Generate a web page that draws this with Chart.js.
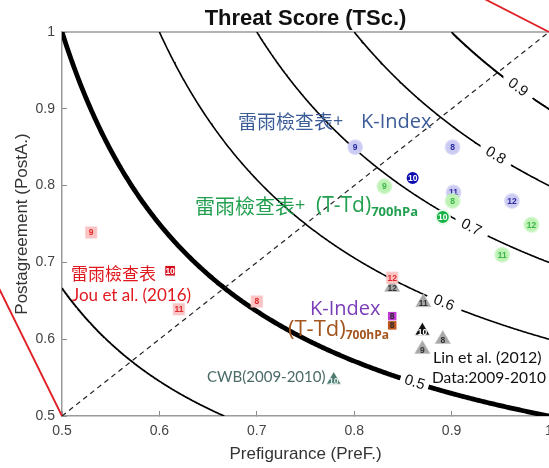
<!DOCTYPE html>
<html>
<head>
<meta charset="utf-8">
<script src="https://cdn.jsdelivr.net/npm/chart.js@4/dist/chart.umd.min.js"></script>
<style>
  html, body { margin: 0; padding: 0; background: #fff; }
  canvas { display: block; }
</style>
</head>
<body>
<canvas id="c" width="549" height="468"></canvas>
<script>
// ---- data ---------------------------------------------------------------
// Threat-score iso-lines drawn over the PreF / PostA plane
const tsLevels = [0.4, 0.5, 0.6, 0.7, 0.8, 0.9];
const axisTicks = [0.5, 0.6, 0.7, 0.8, 0.9, 1];

// 雷雨檢查表 (Jou et al. 2016), by month
const jouMonth = [9, 10, 11, 8, 12];
const jouPreF  = [0.530, 0.611, 0.620, 0.700, 0.839];
const jouPostA = [0.739, 0.689, 0.639, 0.649, 0.680];

// 雷雨檢查表 + K-Index
const kiMonth = [9, 8, 10, 11, 12];
const kiPreF  = [0.801, 0.901, 0.860, 0.902, 0.962];
const kiPostA = [0.850, 0.850, 0.810, 0.791, 0.780];

// 雷雨檢查表 + (T-Td)700hPa
const tdMonth = [9, 8, 10, 12, 11];
const tdPreF  = [0.831, 0.901, 0.891, 0.982, 0.952];
const tdPostA = [0.799, 0.780, 0.759, 0.749, 0.710];

// Lin et al. (2012), data 2009-2010
const linMonth = [12, 11, 10, 8, 9];
const linPreF  = [0.839, 0.871, 0.870, 0.891, 0.870];
const linPostA = [0.668, 0.648, 0.611, 0.600, 0.587];

// K-Index alone and (T-Td)700hPa alone
const kOnlyMonth = [8], kOnlyPreF = [0.839], kOnlyPostA = [0.630];
const tOnlyMonth = [8], tOnlyPreF = [0.839], tOnlyPostA = [0.618];

// CWB (2009-2010)
const cwbMonth = [10], cwbPreF = [0.779], cwbPostA = [0.547];

// ---- helpers ------------------------------------------------------------
const tsPostA = (ts, pref) => 1 / (1 / ts + 1 - 1 / pref);
const toPts = (xs, ys) => xs.map((x, i) => ({ x, y: ys[i] }));
const fmtTick = v => String(Math.round(v * 10) / 10);

// pixels per unit of the plot area (487 x 384 px for a 0.5 x 0.5 range)
const PX_PER_X = 974, PX_PER_Y = 768;
// where each iso-line carries its value label, and the half length of the line break
const contourLabelAt = { 0.5: 0.862, 0.6: 0.892, 0.7: 0.920, 0.8: 0.945, 0.9: 0.968 };
const contourBreak = { 0.5: 14, 0.6: 18, 0.7: 18, 0.8: 18, 0.9: 18 };

function contourPoints(ts) {
  const x0 = Math.max(0.5, ts);
  const x1 = ts < 0.5 ? 1 / (1 / ts - 1) : 1;
  const lx = contourLabelAt[ts];
  const ly = lx ? tsPostA(ts, lx) : null;
  const half = contourBreak[ts] || 0;
  const n = 400, pts = [];
  let inGap = false;
  for (let i = 0; i <= n; i++) {
    const x = x0 + (x1 - x0) * i / n;
    const y = tsPostA(ts, x);
    if (lx && Math.hypot((x - lx) * PX_PER_X, (y - ly) * PX_PER_Y) < half) {
      if (!inGap) { pts.push({ x, y: null }); inGap = true; }
      continue;
    }
    inGap = false;
    pts.push({ x, y });
  }
  return pts;
}

// marker look per series: light style for most months, strong style for October
function markerSet(label, months, xs, ys, shape, radius, look) {
  const isHi = m => m === 10;
  return {
    label,
    data: toPts(xs, ys),
    months,
    pointStyle: shape,
    pointRadius: radius,
    pointBackgroundColor: months.map(m => isHi(m) ? look.hiFill : look.fill),
    pointBorderColor: months.map(m => isHi(m) ? look.hiBorder : look.border),
    pointBorderWidth: look.borderWidth,
    textColors: months.map(m => isHi(m) ? look.hiText : look.text),
    textDy: shape === 'triangle' ? 1.5 : 0.5,
    showLine: false
  };
}

const datasets = [
  markerSet('雷雨檢查表', jouMonth, jouPreF, jouPostA, 'rect', 7.8,
    { fill: '#fbc3c3', border: 'rgba(251,195,195,0.6)', text: '#e02a2a',
      hiFill: '#d20a18', hiBorder: 'rgba(255,255,255,0.9)', hiText: '#ffffff', borderWidth: 1.5 }),
  markerSet('雷雨檢查表+(T-Td)700hPa', tdMonth, tdPreF, tdPostA, 'circle', 7,
    { fill: '#bdf2b4', border: 'rgba(200,245,192,0.7)', text: '#3cb54a',
      hiFill: '#17b346', hiBorder: '#e8fbe8', hiText: '#ffffff', borderWidth: 2 }),
  markerSet('雷雨檢查表+K-Index', kiMonth, kiPreF, kiPostA, 'circle', 7,
    { fill: '#cacaf2', border: 'rgba(210,210,245,0.7)', text: '#2c2ca2',
      hiFill: '#0b0bae', hiBorder: '#ffffff', hiText: '#ffffff', borderWidth: 2 }),
  markerSet('Lin et al. (2012)', linMonth, linPreF, linPostA, 'triangle', 8.8,
    { fill: '#a8a8a8', border: 'rgba(190,190,190,0.6)', text: '#333333',
      hiFill: '#111111', hiBorder: 'rgba(255,255,255,0.8)', hiText: '#ffffff', borderWidth: 1 }),
  markerSet('K-Index', kOnlyMonth, kOnlyPreF, kOnlyPostA, 'rect', 6,
    { fill: '#c23ad6', border: '#c23ad6', text: '#2a2a2a',
      hiFill: '#c23ad6', hiBorder: '#c23ad6', hiText: '#2a2a2a', borderWidth: 0 }),
  markerSet('(T-Td)700hPa', tOnlyMonth, tOnlyPreF, tOnlyPostA, 'rect', 6,
    { fill: '#c0561c', border: '#c0561c', text: '#2a2a2a',
      hiFill: '#c0561c', hiBorder: '#c0561c', hiText: '#2a2a2a', borderWidth: 0 }),
  markerSet('CWB(2009-2010)', cwbMonth, cwbPreF, cwbPostA, 'triangle', 8.5,
    { fill: '#4f7a72', border: '#4f7a72', text: '#e0f0ea',
      hiFill: '#4f7a72', hiBorder: 'rgba(255,255,255,0.7)', hiText: '#e0f0ea', borderWidth: 1 }),
  {
    label: 'bias = 1',
    data: [{ x: 0.5, y: 0.5 }, { x: 1, y: 1 }],
    showLine: true, pointRadius: 0, borderColor: '#222', borderWidth: 1.2,
    borderDash: [5, 4]
  },
  ...tsLevels.map(ts => ({
    label: 'TS ' + ts,
    data: contourPoints(ts),
    showLine: true, pointRadius: 0, spanGaps: false,
    borderColor: '#000', borderWidth: ts === 0.5 ? 4.8 : 1.6,
    borderCapStyle: 'butt'
  })),
  {
    label: 'frame left',
    data: [{ x: 0.5, y: 0.5 }, { x: 0.40, y: 0.757 }],
    showLine: true, pointRadius: 0, borderColor: '#e01e24', borderWidth: 1.8, clip: false
  },
  {
    label: 'frame right',
    data: [{ x: 1, y: 1 }, { x: 0.90, y: 1.065 }],
    showLine: true, pointRadius: 0, borderColor: '#e01e24', borderWidth: 1.8, clip: false
  }
];

// ---- text placed on the plot (anchor = left edge / vertical middle, data units) ----
const CJK = "'Noto Sans CJK TC', 'Noto Sans CJK SC', sans-serif";
const notes = [
  { at: [0.6807, 0.8828], color: '#3b5c98', runs: [
      { t: '雷雨檢查表', f: '19px ' + CJK },
      { t: '+ ', f: "18px 'Open Sans', sans-serif", pad: 13 },
      { t: 'K-Index', f: "20px 'Open Sans', sans-serif" } ] },
  { at: [0.6366, 0.7734], color: '#22a050', runs: [
      { t: '雷雨檢查表', f: '20px ' + CJK },
      { t: '+ ', f: "18px 'Open Sans', sans-serif", pad: 6 },
      { t: '(T-Td)', f: "21px 'Open Sans', sans-serif" },
      { t: '700hPa', f: "bold 13px 'Open Sans', sans-serif", dy: 6 } ] },
  { at: [0.5092, 0.6849], color: '#e0191f', runs: [
      { t: '雷雨檢查表', f: '17px ' + CJK } ] },
  { at: [0.5103, 0.6563], color: '#e0191f', runs: [
      { t: 'Jou et al. (2016)', f: "17px Lato, sans-serif" } ] },
  { at: [0.7546, 0.6393], color: '#7a3db8', runs: [
      { t: 'K-Index', f: "20px 'Open Sans', sans-serif" } ] },
  { at: [0.7320, 0.6120], color: '#a3551f', runs: [
      { t: '(T-Td)', f: "22px 'Open Sans', sans-serif" },
      { t: '700hPa', f: "bold 12px 'Open Sans', sans-serif", dy: 6 } ] },
  { at: [0.6489, 0.5508], color: '#4b6b68', runs: [
      { t: 'CWB(2009-2010)', f: "15px Lato, sans-serif" } ] },
  { at: [0.8809, 0.5755], color: '#111', runs: [
      { t: 'Lin et al. (2012)', f: "16px Lato, sans-serif" } ] },
  { at: [0.8799, 0.5495], color: '#111', runs: [
      { t: 'Data:2009-2010', f: "15.5px Lato, sans-serif" } ] }
];

// ---- plugins ------------------------------------------------------------
const decor = {
  id: 'decor',
  beforeDatasetsDraw(chart) {
    const { ctx, chartArea: a } = chart;
    ctx.save();
    ctx.strokeStyle = '#9a9a9a';
    ctx.lineWidth = 1.5;
    ctx.beginPath();
    ctx.moveTo(a.left, a.top);
    ctx.lineTo(a.right, a.top);
    ctx.stroke();
    ctx.restore();
  },
  afterDatasetDraw(chart, args) {
    const ds = chart.data.datasets[args.index];
    if (!ds.months) return;
    const ctx = chart.ctx;
    ctx.save();
    ctx.font = "bold 8.5px 'Liberation Sans', Arial, sans-serif";
    ctx.textAlign = 'center';
    ctx.textBaseline = 'middle';
    args.meta.data.forEach((el, i) => {
      ctx.fillStyle = ds.textColors[i];
      ctx.fillText(String(ds.months[i]), el.x, el.y + ds.textDy);
    });
    ctx.restore();
  },
  afterDatasetsDraw(chart) {
    const { ctx, scales: { x: xs, y: ys } } = chart;
    // iso-line values
    ctx.save();
    ctx.font = "15px 'Liberation Sans', Arial, sans-serif";
    ctx.fillStyle = '#111';
    ctx.textAlign = 'center';
    ctx.textBaseline = 'middle';
    tsLevels.forEach(ts => {
      const lx = contourLabelAt[ts];
      if (!lx) return;
      const px = xs.getPixelForValue(lx), py = ys.getPixelForValue(tsPostA(ts, lx));
      const px2 = xs.getPixelForValue(lx + 0.002), py2 = ys.getPixelForValue(tsPostA(ts, lx + 0.002));
      ctx.save();
      ctx.translate(px, py);
      ctx.rotate(Math.atan2(py2 - py, px2 - px));
      ctx.fillText(fmtTick(ts), 0, 0);
      ctx.restore();
    });
    ctx.restore();

    // series captions
    notes.forEach(n => {
      let x = xs.getPixelForValue(n.at[0]);
      const y = ys.getPixelForValue(n.at[1]);
      ctx.save();
      ctx.fillStyle = n.color;
      ctx.textAlign = 'left';
      ctx.textBaseline = 'middle';
      n.runs.forEach(r => {
        ctx.font = r.f;
        ctx.fillText(r.t, x, y + (r.dy || 0));
        x += ctx.measureText(r.t).width + (r.pad || 0);
      });
      ctx.restore();
    });

    // title
    const a = chart.chartArea;
    ctx.save();
    ctx.font = "bold 22px 'Liberation Sans', Arial, sans-serif";
    ctx.fillStyle = '#111';
    ctx.textAlign = 'center';
    ctx.textBaseline = 'middle';
    ctx.fillText('Threat Score (TSc.)', (a.left + a.right) / 2, 19);
    ctx.restore();
  }
};

const tickFont = { size: 14, family: "'Liberation Sans', Arial, sans-serif" };
const titleFont = { size: 17, family: "'Liberation Sans', Arial, sans-serif" };

new Chart(document.getElementById('c'), {
  type: 'scatter',
  data: { datasets },
  plugins: [decor],
  options: {
    responsive: false,
    animation: false,
    devicePixelRatio: 1,
    events: [],
    layout: { autoPadding: false, padding: { top: 32, left: 0, right: 0, bottom: 0 } },
    plugins: { legend: { display: false }, tooltip: { enabled: false } },
    scales: {
      x: {
        type: 'linear', min: 0.5, max: 1,
        afterBuildTicks: s => { s.ticks = axisTicks.map(v => ({ value: v })); },
        ticks: { color: '#444', font: tickFont, padding: 12, maxRotation: 0, autoSkip: false,
                 callback: v => fmtTick(v) },
        grid: { drawOnChartArea: false, drawTicks: true, tickLength: -5, color: '#8a8a8a', lineWidth: 1 },
        border: { color: '#9a9a9a', width: 1.5 },
        title: { display: true, text: 'Prefigurance (PreF.)', color: '#333', font: titleFont,
                 padding: { top: 3, bottom: 3 } },
        afterFit: s => { s.height = 52; s.paddingLeft = 0; s.paddingRight = 0; }
      },
      y: {
        type: 'linear', min: 0.5, max: 1,
        afterBuildTicks: s => { s.ticks = axisTicks.map(v => ({ value: v })); },
        ticks: { color: '#444', font: tickFont, padding: 12, autoSkip: false,
                 callback: v => fmtTick(v) },
        grid: { drawOnChartArea: false, drawTicks: true, tickLength: -5, color: '#8a8a8a', lineWidth: 1 },
        border: { color: '#9a9a9a', width: 1.5 },
        title: { display: true, text: 'Postagreement (PostA.)', color: '#333', font: titleFont,
                 padding: { top: 12, bottom: 4 } },
        afterFit: s => { s.width = 62; s.paddingTop = 0; s.paddingBottom = 0; }
      }
    }
  }
});
</script>
</body>
</html>
